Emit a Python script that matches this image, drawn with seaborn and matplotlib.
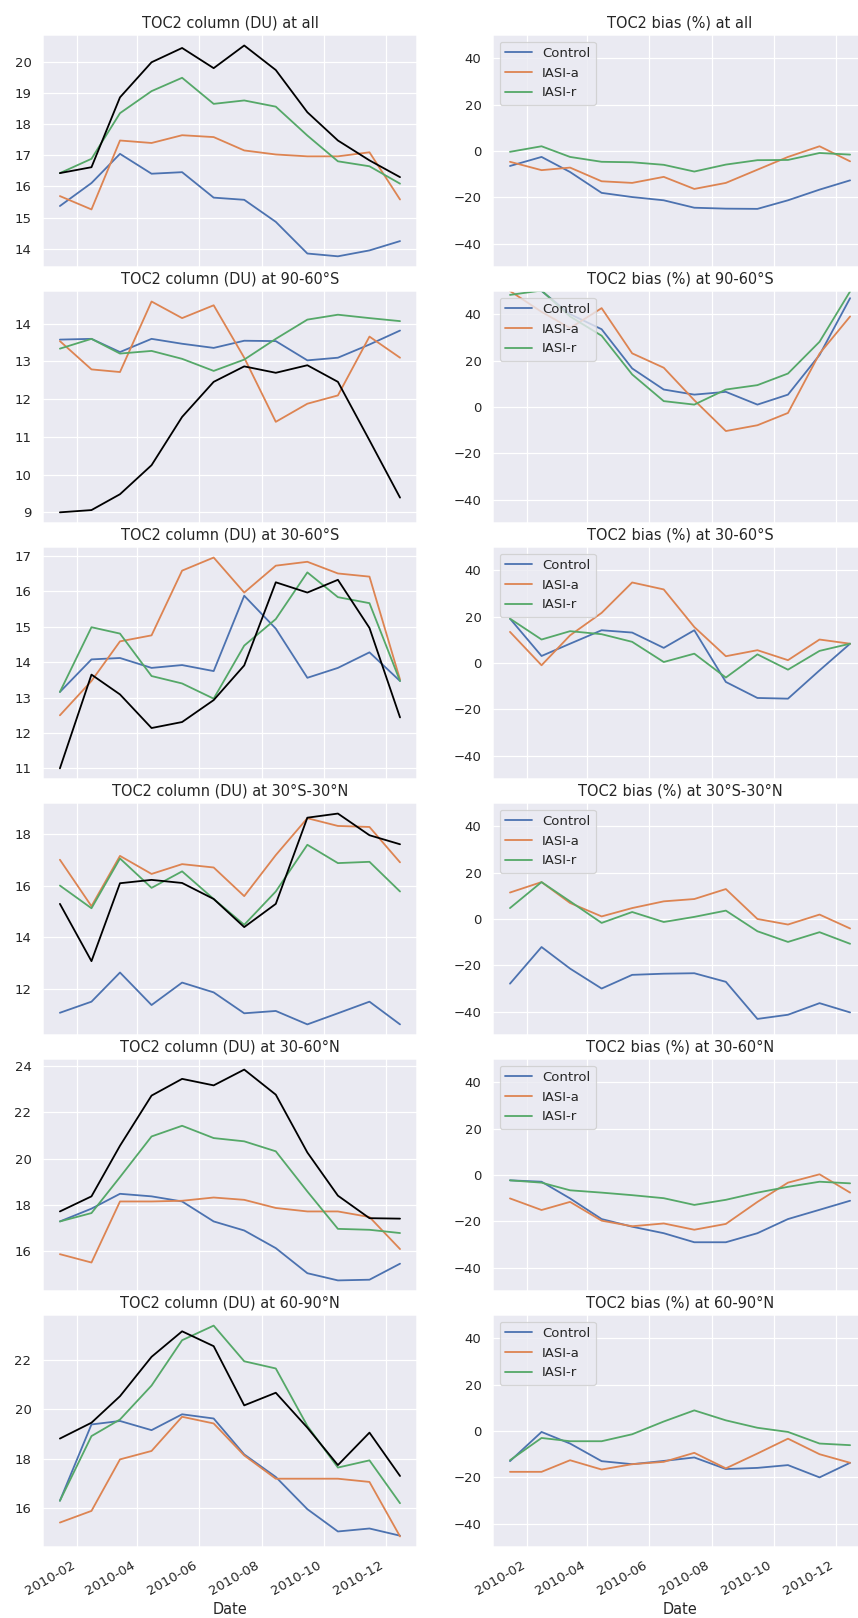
import numpy as np
import pandas as pd
import matplotlib.pyplot as plt
import matplotlib.dates as mdates
import seaborn as sns

sns.set_theme(style='darkgrid', context='notebook')

# monthly means, plotted mid-month
dates = pd.to_datetime(['2010-01-15', '2010-02-15', '2010-03-15', '2010-04-15',
                        '2010-05-15', '2010-06-15', '2010-07-15', '2010-08-15',
                        '2010-09-15', '2010-10-15', '2010-11-15', '2010-12-15'])
regions = ['all', '90-60°S', '30-60°S', '30°S-30°N', '30-60°N', '60-90°N']
runs = ['Control', 'IASI-a', 'IASI-r']
run_colors = sns.color_palette('deep')[:3]

# TOC2 column (DU): reference (black) and the three runs
obs_all = [16.43, 16.62, 18.87, 20.00, 20.46, 19.81, 20.54, 19.75, 18.39, 17.48, 16.84, 16.30]
ctl_all = [15.37, 16.11, 17.05, 16.41, 16.46, 15.64, 15.57, 14.86, 13.84, 13.75, 13.94, 14.24]
iaa_all = [15.69, 15.26, 17.48, 17.40, 17.65, 17.59, 17.16, 17.03, 16.97, 16.97, 17.10, 15.58]
iar_all = [16.43, 16.89, 18.36, 19.07, 19.50, 18.66, 18.77, 18.57, 17.64, 16.81, 16.65, 16.09]

obs_sp = [9.00, 9.06, 9.48, 10.25, 11.53, 12.46, 12.87, 12.70, 12.90, 12.46, 10.91, 9.39]
ctl_sp = [13.58, 13.60, 13.25, 13.60, 13.47, 13.36, 13.55, 13.54, 13.03, 13.10, 13.45, 13.82]
iaa_sp = [13.54, 12.79, 12.72, 14.59, 14.15, 14.49, 13.10, 11.40, 11.88, 12.10, 13.66, 13.10]
iar_sp = [13.34, 13.60, 13.21, 13.28, 13.07, 12.75, 13.05, 13.60, 14.11, 14.24, 14.15, 14.07]

obs_sm = [11.00, 13.65, 13.09, 12.14, 12.31, 12.93, 13.91, 16.26, 15.97, 16.33, 14.97, 12.44]
ctl_sm = [13.16, 14.08, 14.12, 13.84, 13.92, 13.75, 15.88, 14.95, 13.56, 13.84, 14.28, 13.47]
iaa_sm = [12.50, 13.47, 14.59, 14.76, 16.59, 16.96, 15.97, 16.73, 16.84, 16.51, 16.42, 13.51]
iar_sm = [13.16, 14.99, 14.81, 13.61, 13.40, 12.97, 14.47, 15.22, 16.54, 15.84, 15.67, 13.47]

obs_tr = [15.30, 13.08, 16.10, 16.23, 16.11, 15.49, 14.40, 15.30, 18.64, 18.80, 17.96, 17.61]
ctl_tr = [11.08, 11.51, 12.64, 11.38, 12.25, 11.87, 11.06, 11.15, 10.63, 11.06, 11.51, 10.63]
iaa_tr = [17.01, 15.21, 17.16, 16.46, 16.84, 16.71, 15.60, 17.19, 18.62, 18.32, 18.28, 16.91]
iar_tr = [16.01, 15.13, 17.06, 15.92, 16.56, 15.49, 14.49, 15.78, 17.59, 16.88, 16.93, 15.78]

obs_nm = [17.72, 18.37, 20.55, 22.71, 23.43, 23.15, 23.83, 22.75, 20.26, 18.40, 17.43, 17.41]
ctl_nm = [17.29, 17.84, 18.48, 18.37, 18.15, 17.29, 16.90, 16.14, 15.06, 14.75, 14.78, 15.47]
iaa_nm = [15.88, 15.52, 18.15, 18.15, 18.18, 18.32, 18.22, 17.87, 17.72, 17.72, 17.48, 16.10]
iar_nm = [17.29, 17.65, 19.20, 20.95, 21.41, 20.88, 20.74, 20.31, 18.58, 16.97, 16.93, 16.79]

obs_np = [18.81, 19.45, 20.52, 22.11, 23.14, 22.54, 20.15, 20.66, 19.25, 17.74, 19.05, 17.30]
ctl_np = [16.30, 19.38, 19.52, 19.15, 19.79, 19.62, 18.17, 17.26, 15.96, 15.06, 15.18, 14.89]
iaa_np = [15.42, 15.89, 17.97, 18.31, 19.69, 19.42, 18.13, 17.19, 17.19, 17.19, 17.06, 14.86]
iar_np = [16.30, 18.91, 19.58, 20.95, 22.78, 23.37, 21.93, 21.64, 19.32, 17.64, 17.93, 16.20]

# TOC2 bias (%) of each run
bctl_all = [-6.5, -2.6, -9.1, -18.1, -19.9, -21.3, -24.5, -24.9, -25.0, -21.3, -16.7, -12.7]
biaa_all = [-4.7, -8.3, -7.2, -13.1, -13.8, -11.2, -16.4, -13.8, -8.1, -2.6, 2.0, -4.5]
biar_all = [-0.4, 2.0, -2.6, -4.7, -4.9, -6.0, -8.9, -5.9, -4.0, -3.9, -0.9, -1.6]

bctl_sp = [51.0, 50.0, 40.0, 33.5, 16.6, 7.5, 5.3, 6.5, 1.0, 5.3, 22.4, 46.9]
biaa_sp = [50.0, 41.0, 34.0, 42.6, 23.1, 16.9, 2.9, -10.4, -7.9, -2.6, 23.0, 39.0]
biar_sp = [48.3, 50.2, 39.0, 30.7, 14.0, 2.5, 1.0, 7.5, 9.4, 14.4, 28.1, 49.8]

bctl_sm = [19.1, 3.0, 8.3, 14.1, 13.1, 6.5, 14.1, -8.2, -15.1, -15.4, -3.2, 8.3]
biaa_sm = [13.4, -1.0, 11.9, 21.6, 34.7, 31.7, 15.5, 2.9, 5.5, 1.2, 10.1, 8.3]
biar_sm = [19.1, 10.1, 13.7, 12.4, 9.1, 0.4, 4.0, -6.3, 3.7, -2.9, 5.2, 8.3]

bctl_tr = [-27.9, -12.1, -21.4, -30.0, -24.1, -23.6, -23.4, -27.1, -43.1, -41.3, -36.3, -40.3]
biaa_tr = [11.4, 15.9, 6.9, 1.1, 4.7, 7.6, 8.6, 12.9, 0.0, -2.4, 1.9, -4.1]
biar_tr = [4.7, 15.9, 7.6, -1.7, 3.0, -1.3, 0.9, 3.6, -5.3, -9.9, -5.7, -10.7]

bctl_nm = [-2.3, -2.9, -10.1, -19.0, -22.3, -25.1, -29.0, -29.0, -25.1, -19.0, -15.0, -11.1]
biaa_nm = [-10.1, -15.1, -11.6, -19.7, -22.1, -20.9, -23.6, -21.1, -11.6, -3.3, 0.3, -7.6]
biar_nm = [-2.3, -3.3, -6.6, -7.6, -8.7, -10.0, -12.9, -10.7, -7.6, -5.1, -2.9, -3.6]

bctl_np = [-13.0, -0.4, -5.4, -13.0, -14.3, -12.9, -11.4, -16.4, -15.9, -14.7, -20.0, -13.7]
biaa_np = [-17.6, -17.6, -12.6, -16.6, -14.3, -13.3, -9.4, -16.1, -9.7, -3.3, -10.0, -13.7]
biar_np = [-12.6, -3.0, -4.4, -4.4, -1.4, 4.1, 8.9, 4.6, 1.4, -0.4, -5.4, -6.1]

obs = [obs_all, obs_sp, obs_sm, obs_tr, obs_nm, obs_np]
column = [[ctl_all, iaa_all, iar_all], [ctl_sp, iaa_sp, iar_sp], [ctl_sm, iaa_sm, iar_sm],
          [ctl_tr, iaa_tr, iar_tr], [ctl_nm, iaa_nm, iar_nm], [ctl_np, iaa_np, iar_np]]
bias = [[bctl_all, biaa_all, biar_all], [bctl_sp, biaa_sp, biar_sp], [bctl_sm, biaa_sm, biar_sm],
        [bctl_tr, biaa_tr, biar_tr], [bctl_nm, biaa_nm, biar_nm], [bctl_np, biaa_np, biar_np]]

fig, axes = plt.subplots(6, 2, figsize=(858 / 87, 1618 / 87), dpi=87, sharex=True)
fig.subplots_adjust(left=0.05, right=1.0106, top=0.9784, bottom=0.0439,
                    wspace=0.203, hspace=0.104)

for i, region in enumerate(regions):
    axl, axr = axes[i]

    for run, color, vals in zip(runs, run_colors, column[i]):
        sns.lineplot(x=dates, y=vals, color=color, ax=axl)
    sns.lineplot(x=dates, y=obs[i], color='black', ax=axl)
    axl.set_title(f'TOC2 column (DU) at {region}')

    for run, color, vals in zip(runs, run_colors, bias[i]):
        sns.lineplot(x=dates, y=vals, color=color, label=run, ax=axr)
    axr.set_ylim(-50, 50)
    axr.set_yticks([-40, -20, 0, 20, 40])
    axr.legend(loc='upper left')
    axr.set_title(f'TOC2 bias (%) at {region}')

    for ax in (axl, axr):
        ax.set_ylabel('')
        ax.set_xlabel('Date' if i == len(regions) - 1 else '')

for ax in axes[-1]:
    ax.xaxis.set_major_locator(mdates.MonthLocator(bymonth=[2, 4, 6, 8, 10, 12]))
    ax.xaxis.set_major_formatter(mdates.DateFormatter('%Y-%m'))
    plt.setp(ax.get_xticklabels(), rotation=30, ha='right')

plt.savefig('out.png', dpi=87)
